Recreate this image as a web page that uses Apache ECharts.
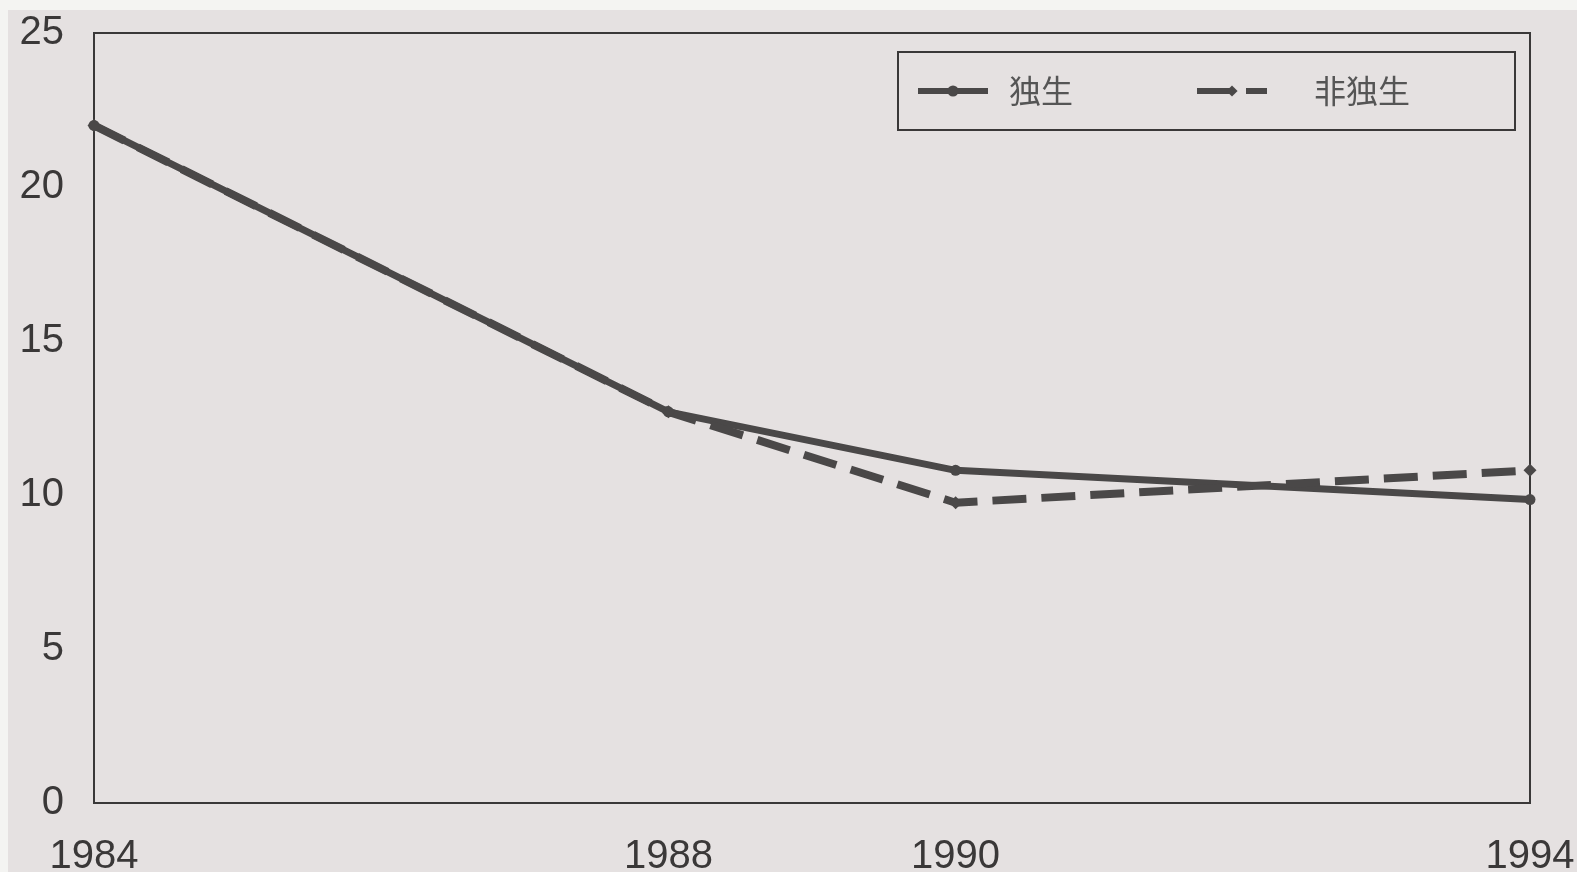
<!DOCTYPE html>
<html>
<head>
<meta charset="utf-8">
<title>独生 / 非独生</title>
<script src="https://cdn.jsdelivr.net/npm/echarts@6/dist/echarts.min.js"></script>
<style>
  html, body { margin: 0; padding: 0; background: #f4f4f2; }
  #chart { position: absolute; left: 8px; top: 10px; width: 1569px; height: 862px; }
</style>
</head>
<body>
<div id="chart"></div>
<script>
  // values
  var years = [1984, 1988, 1990, 1994];
  var onlyChild = [22.0, 12.7, 10.8, 9.85];
  var notOnlyChild = [22.0, 12.7, 9.75, 10.8];
  var yearLabels = [1984, 1988, 1990, 1994];
  var names = ['独生', '非独生'];

  function pairs(vals) {
    return years.map(function (y, i) { return [y, vals[i]]; });
  }

  var ink = '#4a4848';
  var myChart = echarts.init(document.getElementById('chart'));
  var option = {
    backgroundColor: '#e5e1e1',
    animation: false,
    textStyle: { fontFamily: '"Liberation Sans", Arial, sans-serif' },
    legend: {
      data: [
        { name: names[0], textStyle: { padding: [0, 0, 0, 16] } },
        { name: names[1], textStyle: { padding: [0, 0, 0, 42] } }
      ],
      left: 890,
      top: 42,
      orient: 'horizontal',
      itemWidth: 70,
      itemHeight: 14,
      itemGap: 121,
      padding: [23, 105, 23, 17],
      borderColor: '#3a3838',
      borderWidth: 2,
      lineStyle: { width: 6 },
      textStyle: {
        fontFamily: '"Noto Sans CJK SC", sans-serif',
        fontSize: 32,
        color: '#555'
      }
    },
    grid: {
      show: true,
      left: 86,
      top: 23,
      right: 47,
      bottom: 69,
      outerBoundsMode: 'none',
      containLabel: false,
      borderColor: '#3a3838',
      borderWidth: 2,
      backgroundColor: 'transparent'
    },
    xAxis: {
      type: 'value',
      min: 1984,
      max: 1994,
      interval: 1,
      axisLine: { show: true, lineStyle: { color: '#3a3838', width: 2 } },
      axisTick: { show: false },
      splitLine: { show: false },
      axisLabel: {
        margin: 34,
        fontSize: 40,
        color: '#3a3838',
        formatter: function (v) {
          return yearLabels.indexOf(v) >= 0 ? String(v) : '';
        }
      }
    },
    yAxis: {
      type: 'value',
      min: 0,
      max: 25,
      interval: 5,
      axisLine: { show: true, lineStyle: { color: '#3a3838', width: 2 } },
      axisTick: { show: false },
      splitLine: { show: false },
      axisLabel: { margin: 30, fontSize: 40, color: '#3a3838' }
    },
    series: [{
      name: names[0],
      type: 'line',
      data: pairs(onlyChild),
      symbol: 'circle',
      symbolSize: 11,
      lineStyle: { color: ink, width: 7 },
      itemStyle: { color: ink }
    }, {
      name: names[1],
      type: 'line',
      data: pairs(notOnlyChild),
      symbol: 'diamond',
      symbolSize: 13,
      lineStyle: { color: ink, width: 8, type: [34, 15] },
      itemStyle: { color: ink }
    }]
  };
  myChart.setOption(option);
</script>
</body>
</html>
